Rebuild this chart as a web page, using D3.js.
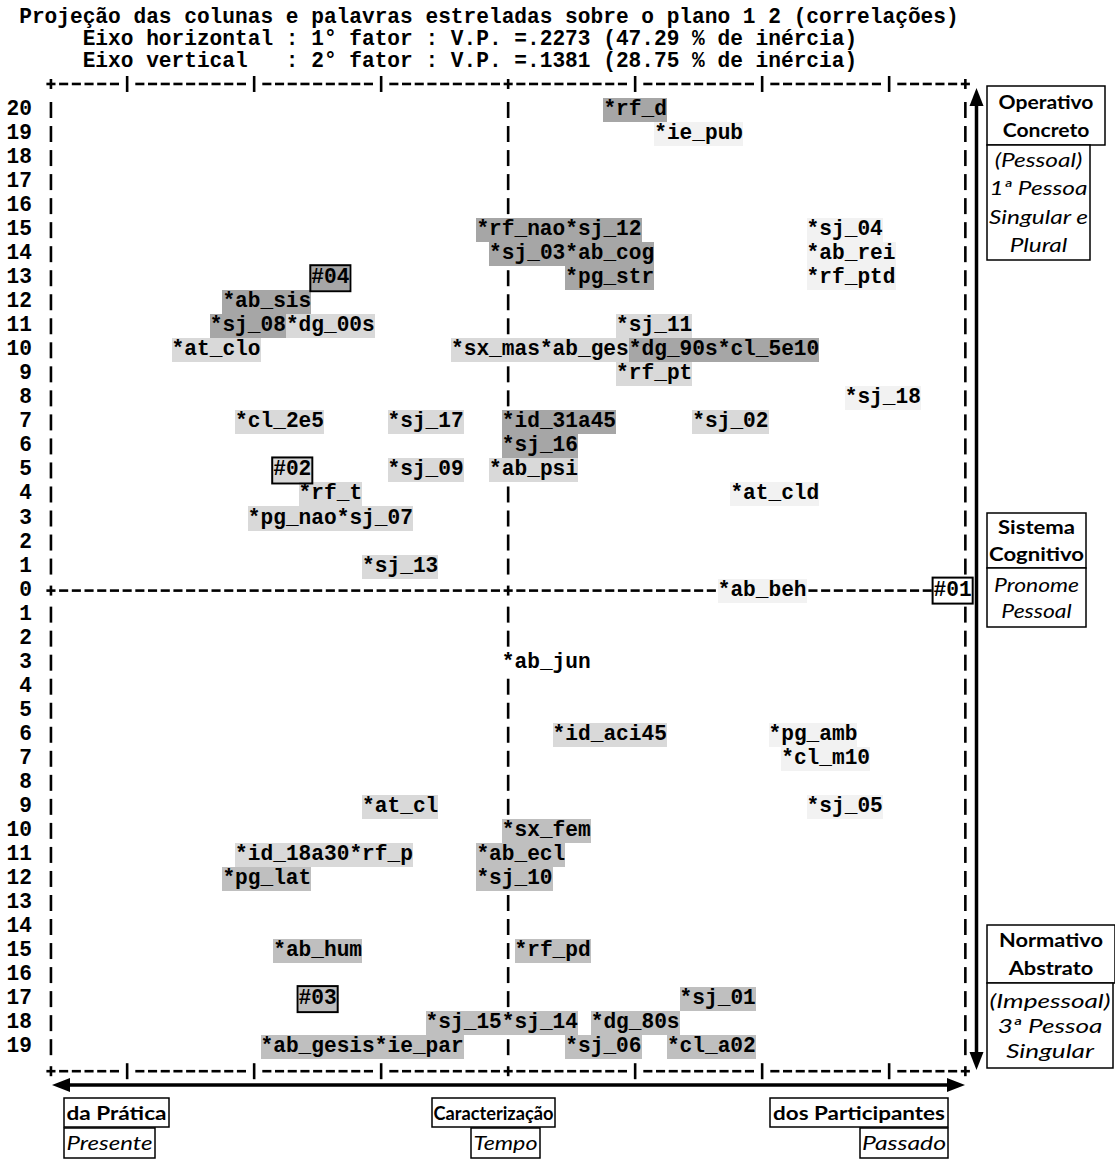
<!DOCTYPE html>
<html>
<head>
<meta charset="utf-8">
<script src="https://cdn.jsdelivr.net/npm/d3@7"></script>
<style>
  body { margin: 0; background: #fff; }
  svg { display: block; }
  .mono { font-family: "Liberation Mono", "Courier New", monospace; font-weight: bold; font-size: 21.16px; white-space: pre; }
  .cal { font-family: Lato, "Open Sans", sans-serif; font-size: 19.5px; }
</style>
</head>
<body>
<svg width="1115" height="1160"></svg>
<script>
const titleLines = [
  'Projeção das colunas e palavras estreladas sobre o plano 1 2 (correlações)',
  '     Eixo horizontal : 1° fator : V.P. =.2273 (47.29 % de inércia)',
  '     Eixo vertical   : 2° fator : V.P. =.1381 (28.75 % de inércia)'
]
// row values, top to bottom (printed as absolute value)
const rowValues = d3.range(20, -20, -1)
// columns of the "|" ticks on the top/bottom frame
const frameTicks = [-30, -20, -10, 10, 20, 30]

// starred words: text, column (0 = vertical axis), row, shade
const words = ['*rf_d', '*ie_pub', '*rf_nao', '*sj_12', '*sj_04', '*sj_03', '*ab_cog', '*ab_rei',
  '#04', '*pg_str', '*rf_ptd', '*ab_sis', '*sj_08', '*dg_00s', '*sj_11', '*at_clo',
  '*sx_mas', '*ab_ges', '*dg_90s', '*cl_5e10', '*rf_pt', '*sj_18', '*cl_2e5', '*sj_17',
  '*id_31a45', '*sj_02', '*sj_16', '#02', '*sj_09', '*ab_psi', '*rf_t', '*at_cld',
  '*pg_nao', '*sj_07', '*sj_13', '*ab_beh', '#01', '*ab_jun', '*id_aci45', '*pg_amb',
  '*cl_m10', '*at_cl', '*sj_05', '*sx_fem', '*id_18a30', '*rf_p', '*ab_ecl', '*pg_lat',
  '*sj_10', '*ab_hum', '*rf_pd', '#03', '*sj_01', '*sj_15', '*sj_14', '*dg_80s',
  '*ab_gesis', '*ie_par', '*sj_06', '*cl_a02']
const wordCols = [8, 12, -2, 5, 24, -1, 5, 24,
  -15, 5, 24, -22, -23, -17, 9, -26,
  -4, 3, 10, 17, 9, 27, -21, -9,
  0, 15, 0, -18, -9, -1, -16, 18,
  -20, -13, -11, 17, 34, 0, 4, 21,
  22, -11, 24, 0, -21, -12, -2, -22,
  -2, -18, 1, -16, 14, -6, 0, 7,
  -19, -10, 5, 13]
const wordRows = [20, 19, 15, 15, 15, 14, 14, 14,
  13, 13, 13, 12, 11, 11, 11, 10,
  10, 10, 10, 10, 9, 8, 7, 7,
  7, 7, 6, 5, 5, 5, 4, 4,
  3, 3, 1, 0, 0, -3, -6, -6,
  -7, -9, -9, -10, -11, -11, -11, -12,
  -12, -15, -15, -17, -17, -18, -18, -18,
  -19, -19, -19, -19]
// D dark, M medium, L light, P pale, N none
const wordShades = ['D', 'P', 'D', 'D', 'P', 'D', 'D', 'P',
  'D', 'D', 'P', 'D', 'D', 'L', 'L', 'L',
  'L', 'L', 'D', 'D', 'L', 'P', 'L', 'L',
  'D', 'L', 'D', 'L', 'L', 'L', 'L', 'P',
  'L', 'L', 'L', 'P', 'N', 'N', 'L', 'P',
  'P', 'L', 'P', 'M', 'L', 'L', 'M', 'M',
  'M', 'M', 'M', 'M', 'M', 'M', 'M', 'M',
  'M', 'M', 'M', 'M']

const shadeColor = { D: '#a6a6a6', M: '#bfbfbf', L: '#d9d9d9', P: '#f2f2f2', N: '#ffffff' }

const svg = d3.select('svg'),
  CW = 12.7,
  RH = 24.03,
  x = d3.scaleLinear().domain([-36, 36]).range([44.6, 44.6 + 72 * CW]),
  y = d3.scaleLinear().domain([20, -19]).range([110, 110 + 39 * RH])

const items = words.map((w, i) => ({ w, c: wordCols[i], v: wordRows[i], s: wordShades[i] }))
const used = new Set()
items.forEach(d => { for (let k = 0; k < d.w.length; k++) used.add(d.v + ':' + (d.c + k)) })

// ascii frame glyphs
const glyphs = []
;[21, -20].forEach(v => {
  d3.range(-36, 37).forEach(c => {
    const ch = (c === -36 || c === 0 || c === 36) ? '+' : frameTicks.includes(c) ? '|' : '-'
    glyphs.push({ c, v, ch })
  })
})
rowValues.forEach(v => {
  if (v === 0) {
    d3.range(-36, 37).forEach(c => glyphs.push({ c, v, ch: (c === -36 || c === 0 || c === 36) ? '+' : '-' }))
  } else {
    ;[-36, 0, 36].forEach(c => glyphs.push({ c, v, ch: '|' }))
  }
})
const frame = svg.append('g').attr('stroke', '#000').attr('stroke-width', 2.6)
glyphs.filter(g => !used.has(g.v + ':' + g.c)).forEach(g => {
  const x0 = x(g.c), yc = y(g.v) + (g.v === 21 ? -2 : 0)
  if (g.ch === '-' || g.ch === '+') {
    frame.append('line').attr('x1', x0 + 1.8).attr('x2', x0 + CW - 1.8).attr('y1', yc).attr('y2', yc)
  }
  if (g.ch === '|') {
    frame.append('line').attr('x1', x0 + CW / 2).attr('x2', x0 + CW / 2).attr('y1', yc - 8).attr('y2', yc + 8)
  }
  if (g.ch === '+') {
    frame.append('line').attr('x1', x0 + CW / 2).attr('x2', x0 + CW / 2).attr('y1', yc - 5).attr('y2', yc + 5)
  }
})

// title
svg.append('g').selectAll('text').data(titleLines).join('text')
  .attr('class', 'mono')
  .attr('x', x(-38))
  .attr('y', (d, i) => 23 + i * 22)
  .text(d => d)

// row labels
svg.append('g').selectAll('text').data(rowValues).join('text')
  .attr('class', 'mono')
  .attr('text-anchor', 'end')
  .attr('x', x(-37))
  .attr('y', d => y(d) + 5)
  .text(d => Math.abs(d))

// highlighted words
const wg = svg.append('g')
wg.selectAll('rect').data(items).join('rect')
  .attr('shape-rendering', 'crispEdges')
  .attr('x', d => x(d.c))
  .attr('y', d => y(d.v) - RH / 2)
  .attr('width', d => d.w.length * CW)
  .attr('height', RH)
  .attr('fill', d => shadeColor[d.s])
wg.selectAll('rect.code').data(items.filter(d => d.w[0] === '#')).join('rect')
  .attr('class', 'code')
  .attr('x', d => x(d.c) - 1)
  .attr('y', d => y(d.v) - 13)
  .attr('width', d => d.w.length * CW + 2)
  .attr('height', 26)
  .attr('fill', 'none')
  .attr('stroke', '#000')
  .attr('stroke-width', 2)
wg.selectAll('text').data(items).join('text')
  .attr('class', 'mono')
  .attr('x', d => x(d.c))
  .attr('y', d => y(d.v) + 5)
  .text(d => d.w)

// arrows
const arrows = svg.append('g')
const ax = 976.5, ay = 1085
arrows.append('line').attr('x1', ax).attr('x2', ax).attr('y1', 100).attr('y2', 1058)
  .attr('stroke', '#000').attr('stroke-width', 3.5)
arrows.append('path').attr('d', `M${ax},88L${ax - 7},106L${ax + 7},106Z`)
arrows.append('path').attr('d', `M${ax},1070L${ax - 7},1052L${ax + 7},1052Z`)
arrows.append('line').attr('x1', 64).attr('x2', 953).attr('y1', ay).attr('y2', ay)
  .attr('stroke', '#000').attr('stroke-width', 3.5)
arrows.append('path').attr('d', `M52,${ay}L70,${ay - 7}L70,${ay + 7}Z`)
arrows.append('path').attr('d', `M965,${ay}L947,${ay - 7}L947,${ay + 7}Z`)

// annotation boxes
const sideText = [
  ['Operativo', 'Concreto'], ['(Pessoal)', '1ª Pessoa', 'Singular e', 'Plural'],
  ['Sistema', 'Cognitivo'], ['Pronome', 'Pessoal'],
  ['Normativo', 'Abstrato'], ['(Impessoal)', '3ª Pessoa', 'Singular'],
  ['da Prática'], ['Presente'], ['Caracterização'], ['Tempo'], ['dos Participantes'], ['Passado']
]
// x0, x1, y0, y1, line height, bold, width of the widest line
const boxLayout = [
  [987, 1105, 86, 145, 28, true, 95], [987, 1090, 145, 260, 28.5, false, 99],
  [987, 1086, 513, 568, 27, true, 95], [987, 1086, 568, 627, 26, false, 85],
  [987, 1115, 925, 983, 28, true, 104], [987, 1113, 983, 1068, 25, false, 121],
  [64, 169, 1098, 1127, 0, true, 100], [64, 155, 1128, 1158, 0, false, 86],
  [432, 555, 1098, 1127, 0, true, 120], [471, 540, 1128, 1158, 0, false, 64],
  [770, 948, 1098, 1127, 0, true, 172], [860, 948, 1128, 1158, 0, false, 84]
]
const bg = svg.append('g')
sideText.forEach((lines, i) => {
  const [x0, x1, y0, y1, lh, bold, fit] = boxLayout[i]
  bg.append('rect').attr('x', x0).attr('y', y0).attr('width', x1 - x0).attr('height', y1 - y0)
    .attr('fill', '#fff').attr('stroke', '#000').attr('stroke-width', 1.5)
  const cy = (y0 + y1) / 2
  const tg = bg.append('g')
  const t = tg.selectAll(null).data(lines).join('text')
    .attr('class', 'cal')
    .attr('text-anchor', 'middle')
    .attr('font-weight', bold ? 'bold' : 'normal')
    .attr('font-style', bold ? 'normal' : 'italic')
    .attr('x', 0)
    .attr('y', (d, k) => cy + (k - (lines.length - 1) / 2) * lh)
    .attr('dy', '0.36em')
    .text(d => d)
  const w = d3.max(t.nodes(), n => n.getComputedTextLength())
  tg.attr('transform', `translate(${(x0 + x1) / 2},0) scale(${fit / w},1)`)
})
</script>
</body>
</html>
